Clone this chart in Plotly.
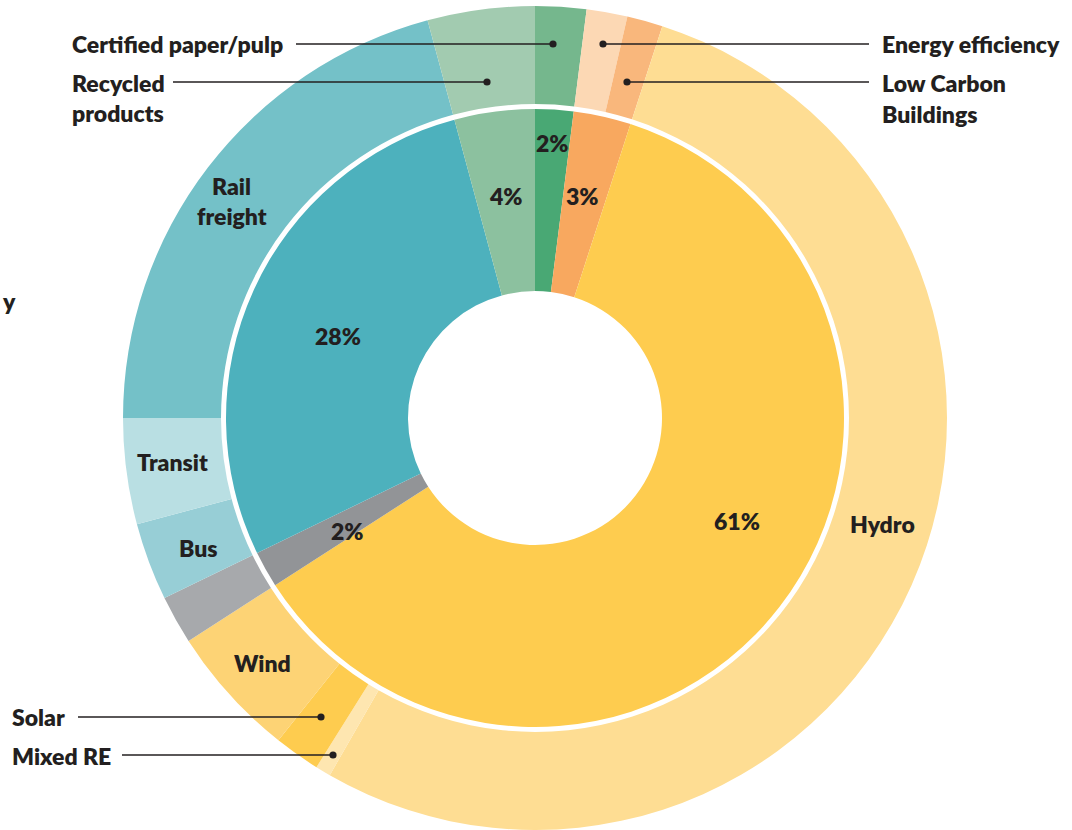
import plotly.graph_objects as go

W, H = 1072, 830
CX, CY = 535, 418          # pixel centre of the rings (from top-left)
R_OUT, R_OUT_IN = 412, 314  # outer ring radii
R_IN, R_HOLE = 309, 127     # inner ring radii

# ---------------- data ----------------
inner_groups = ["Certified paper/pulp", "Energy efficiency & buildings", "Renewable energy",
                "Other", "Low carbon transport", "Recycled products"]
inner_values = [2.0, 3.0, 60.9, 1.9, 28.0, 4.2]
inner_pct = ["2%", "3%", "61%", "2%", "28%", "4%"]

outer_labels = ["Certified paper/pulp", "Energy efficiency", "Low Carbon Buildings", "Hydro",
                "Mixed RE", "Solar", "Wind", "Other", "Bus", "Transit", "Rail freight",
                "Recycled products"]
outer_values = [2.0, 1.6, 1.4, 53.3, 0.6, 1.8, 5.2, 1.9, 3.05, 4.15, 20.8, 4.2]

# ---------------- styles ----------------
inner_colors = ["#49a874", "#f8a85f", "#fecc4f", "#929497", "#4db1bd", "#8cc19f"]
outer_colors = ["#75b78d", "#fcd8b4", "#f9b77c", "#fedd93", "#fee6b0", "#fecc4f",
                "#fdd375", "#a7a9ac", "#97ced6", "#b9dfe3", "#74c1c8", "#a2cbb0"]
TXT = "#231f20"
FONT = dict(family="Lato", size=23, color=TXT, weight=800)


def dom(r):
    return dict(x=[(CX - r) / W, (CX + r) / W], y=[(H - CY - r) / H, (H - CY + r) / H])


def px(x, y):
    return x / W, 1 - y / H


fig = go.Figure()
fig.add_trace(go.Pie(
    labels=outer_labels, values=outer_values, sort=False, direction="clockwise",
    rotation=0, hole=R_OUT_IN / R_OUT, domain=dom(R_OUT),
    marker=dict(colors=outer_colors, line=dict(width=0)),
    textinfo="none", hoverinfo="label+value", showlegend=False,
))
fig.add_trace(go.Pie(
    labels=inner_groups, values=inner_values, sort=False, direction="clockwise",
    rotation=0, hole=R_HOLE / R_IN, domain=dom(R_IN),
    marker=dict(colors=inner_colors, line=dict(width=0)),
    textinfo="none", hoverinfo="label+value", showlegend=False,
))

annotations = []


def add_text(t, x, y, anchor="center"):
    ax, ay = px(x, y)
    annotations.append(dict(text=t, x=ax, y=ay, xref="paper", yref="paper",
                            xanchor=anchor, yanchor="middle", showarrow=False, font=FONT))


# percentage labels on the inner ring
pct_pos = [(552, 143), (582, 196), (737, 521), (347, 531), (338, 336), (506, 196)]
for t, (x, y) in zip(inner_pct, pct_pos):
    add_text(t, x, y)

# in-ring labels on the outer ring
add_text("Rail", 232, 186)
add_text("freight", 232, 216)
add_text("Transit", 172, 462)
add_text("Bus", 198, 548)
add_text("Wind", 262, 663)
add_text("Hydro", 882, 524)

# external labels
add_text("Certified paper/pulp", 70, 44, "left")
add_text("Recycled", 70, 83, "left")
add_text("products", 70, 113, "left")
add_text("Energy efficiency", 880, 44, "left")
add_text("Low Carbon", 880, 83, "left")
add_text("Buildings", 880, 114, "left")
add_text("Solar", 10, 717, "left")
add_text("Mixed RE", 10, 756, "left")
add_text("y", 0, 301, "left")

# leader lines with dots
leaders = [((296, 44), (553, 44)), ((173, 82), (487, 82)),
           ((869, 44), (603, 44)), ((869, 82), (627, 82)),
           ((78, 717), (321, 717)), ((122, 755), (333, 755))]
shapes = []
for (x0, y0), (x1, y1) in leaders:
    a0, b0 = px(x0, y0)
    a1, b1 = px(x1, y1)
    shapes.append(dict(type="line", xref="paper", yref="paper", x0=a0, y0=b0, x1=a1, y1=b1,
                       line=dict(color=TXT, width=1.6)))
    r = 3.6
    shapes.append(dict(type="circle", xref="paper", yref="paper",
                       x0=(x1 - r) / W, x1=(x1 + r) / W, y0=1 - (y1 + r) / H, y1=1 - (y1 - r) / H,
                       fillcolor=TXT, line=dict(width=0)))

fig.update_layout(
    width=W, height=H, margin=dict(l=0, r=0, t=0, b=0),
    paper_bgcolor="white", plot_bgcolor="white",
    annotations=annotations, shapes=shapes,
)
fig.write_html("out.html", config={"displayModeBar": False},
               post_script="document.body.style.margin='0';document.body.style.overflow='hidden';")
